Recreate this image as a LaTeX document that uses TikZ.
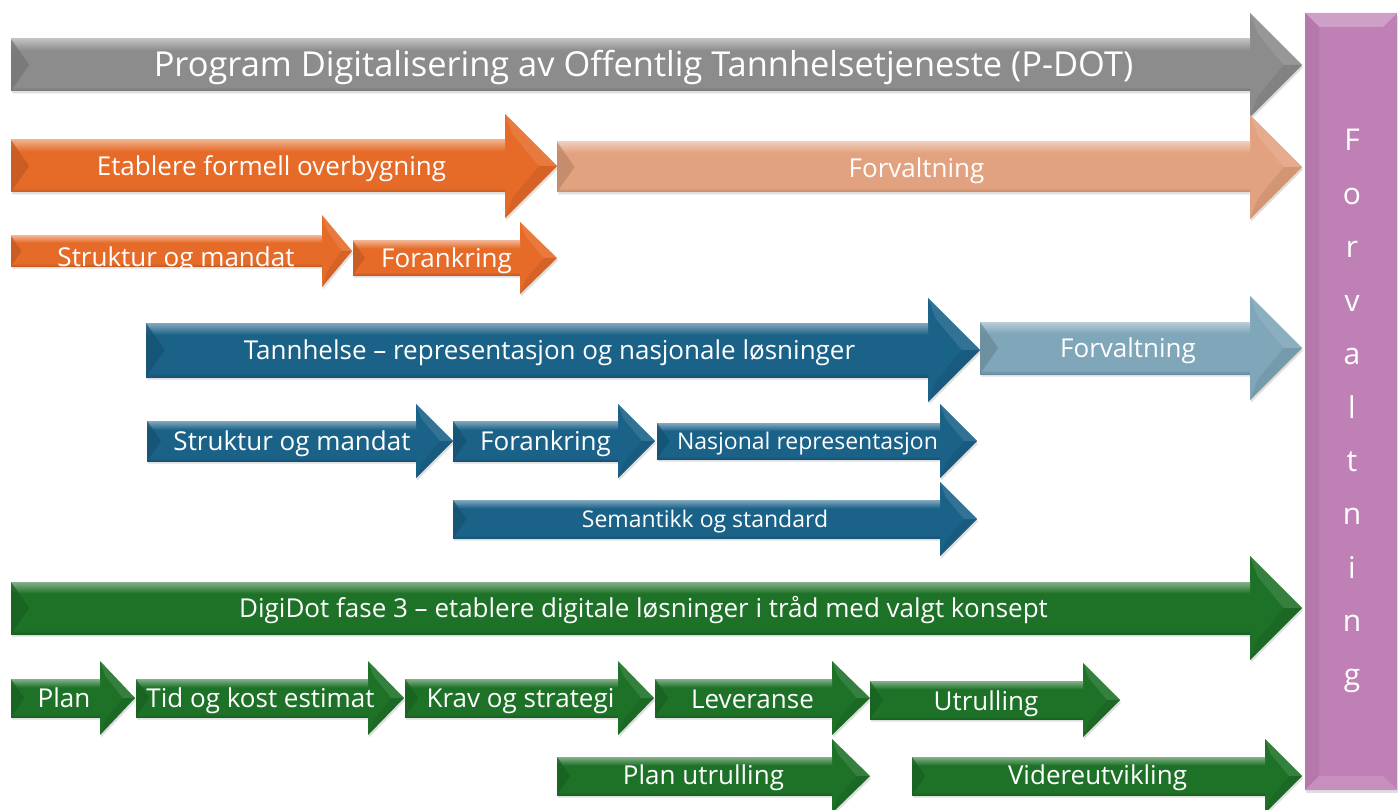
\documentclass[tikz,border=0pt]{standalone}
\usepackage{fontspec}
\setmainfont{Open Sans}
\usetikzlibrary{shadows}
\definecolor{cgray}{HTML}{8C8C8C}
\definecolor{corange}{HTML}{E66B28}
\definecolor{clorange}{HTML}{E2A27F}
\definecolor{cblue}{HTML}{1B6289}
\definecolor{clblue}{HTML}{7FA6B9}
\definecolor{cgreen}{HTML}{1E7228}
\definecolor{cpurple}{HTML}{BF80B5}
\colorlet{basecol}{cgray}
\pgfdeclareverticalshading[basecol]{bevel}{100bp}{color(0bp)=(basecol!85!black); color(25bp)=(basecol!85!black); color(29bp)=(basecol); color(64bp)=(basecol); color(75bp)=(basecol!55!white); color(100bp)=(basecol!55!white)}
\newcommand{\fs}[1]{\fontsize{#1}{#1}\selectfont}
% #1 colour, #2 x start, #3 head base x, #4 tip x, #5 y centre, #6 body half height, #7 head half height
\newcommand{\arr}[7]{%
  \colorlet{basecol}{#1}%
  \path[fill=#1, drop shadow={opacity=0.25, shadow xshift=1pt, shadow yshift=-2.5pt}]
    (#2,#5-#6) -- (#3,#5-#6) -- (#3,#5-#7) -- (#4,#5) -- (#3,#5+#7) -- (#3,#5+#6) -- (#2,#5+#6) -- cycle;
  \shade[shading=bevel] (#2,#5-#6) rectangle (#3,#5+#6);
  \fill[#1!82!black, opacity=0.7] (#2,#5-#6) -- (#2+0.7*#6,#5) -- (#2,#5+#6) -- cycle;
  \fill[#1!70!white, opacity=0.35] (#3,#5-#7) -- (#4,#5) -- (#4-0.35*#4+0.35*#3,#5) -- (#3+0.15*#4-0.15*#3,#5-0.6*#7) -- cycle;
  \fill[#1!80!black, opacity=0.35] (#3,#5+#7) -- (#4,#5) -- (#4-0.35*#4+0.35*#3,#5) -- (#3+0.15*#4-0.15*#3,#5+0.6*#7) -- cycle;
}
\tikzset{
  lbl/.style={text=white, anchor=base, inner sep=0pt},
  big/.style={lbl, font=\fs{26}},
  small/.style={lbl, font=\fs{23}},
  letter/.style={lbl, font=\fs{30}},
}
\begin{document}
\begin{tikzpicture}[x=1pt, y=-1pt]
\useasboundingbox (0,0) rectangle (1399,810);
\fill[white] (0,0) rectangle (1399,810);

% purple side bar
\node[fill=cpurple, minimum width=92pt, minimum height=777pt, inner sep=0pt, anchor=north west,
  drop shadow={opacity=0.25, shadow xshift=1pt, shadow yshift=-2.5pt}] (side) at (1305,13) {};
\fill[cpurple!75!white] (1305,13) -- (1397,13) -- (1383,27) -- (1319,27) -- cycle;
\fill[cpurple!94!black] (1305,13) -- (1319,27) -- (1319,776) -- (1305,790) -- cycle;
\fill[cpurple!88!white] (1305,790) -- (1397,790) -- (1383,776) -- (1319,776) -- cycle;
\foreach \c [count=\i from 0] in {F,o,r,v,a,l,t,n,i,n,g}
  \node[letter] (s\i) at (1352,151+53.4*\i) {\c};

% arrows
\arr{cgray}{11}{1250}{1302}{65}{26}{52}
\arr{corange}{11}{505}{557}{166}{26}{52}
\arr{clorange}{557}{1250}{1302}{167}{25}{52}
\arr{corange}{11}{322}{352}{251}{15}{36}
\arr{corange}{353}{520}{557}{258}{17}{36}
\arr{cblue}{146}{928}{980}{350}{27}{52}
\arr{clblue}{980}{1250}{1302}{348}{26}{52}
\arr{cblue}{147}{416}{453}{441}{20}{37}
\arr{cblue}{453}{618}{655}{441}{20}{37}
\arr{cblue}{657}{940}{977}{441}{18}{37}
\arr{cblue}{453}{940}{977}{519}{19}{37}
\arr{cgreen}{11}{1250}{1302}{608}{26}{52}
\arr{cgreen}{11}{100}{135}{698}{19}{37}
\arr{cgreen}{136}{368}{404}{698}{19}{37}
\arr{cgreen}{405}{618}{654}{698}{19}{37}
\arr{cgreen}{655}{832}{870}{698}{19}{37}
\arr{cgreen}{870}{1083}{1120}{700}{19}{37}
\arr{cgreen}{557}{832}{870}{776}{19}{37}
\arr{cgreen}{912}{1265}{1302}{776}{19}{37}

% labels
\node[lbl, font=\fs{34.4}] (t1) at (643.5,77) {Program Digitalisering av Offentlig Tannhelsetjeneste (P-DOT)};
\node[big] (t2) at (271.5,175.3) {Etablere formell overbygning};
\node[big] (t3) at (916.5,177.3) {Forvaltning};
\node[big] (t4) at (176,266.5) {Struktur og mandat};
\node[big] (t5) at (446.5,267.8) {Forankring};
\node[big] (t6) at (549.5,359.3) {Tannhelse – representasjon og nasjonale løsninger};
\node[big] (t7) at (1128,357.3) {Forvaltning};
\node[big] (t8) at (292,450.3) {Struktur og mandat};
\node[big] (t9) at (545.5,450.3) {Forankring};
\node[small] (t10) at (807.5,449.2) {Nasjonal representasjon};
\node[small] (t11) at (705,527.2) {Semantikk og standard};
\node[big] (t12) at (643.5,617.3) {DigiDot fase 3 – etablere digitale løsninger i tråd med valgt konsept};
\node[big] (t13) at (64,707.3) {Plan};
\node[big] (t14) at (260.5,707.3) {Tid og kost estimat};
\node[big] (t15) at (520.5,707.3) {Krav og strategi};
\node[big] (t16) at (752.5,708.3) {Leveranse};
\node[big] (t17) at (986,710.3) {Utrulling};
\node[big] (t18) at (703.5,784.3) {Plan utrulling};
\node[big] (t19) at (1097.5,784.3) {Videreutvikling};
\end{tikzpicture}
\end{document}
